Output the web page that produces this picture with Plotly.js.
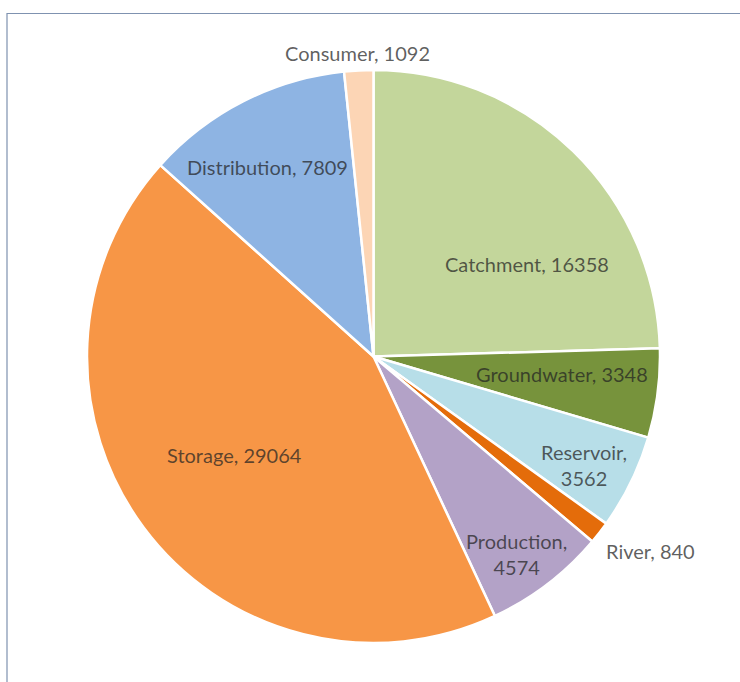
<!DOCTYPE html>
<html>
<head>
<meta charset="utf-8">
<script src="https://cdn.plot.ly/plotly-3.0.1.min.js"></script>
<style>
html,body{margin:0;padding:0;background:#fff;}
#chart{width:740px;height:682px;}
</style>
</head>
<body>
<div id="chart"></div>
<script>
const categories = ["Catchment","Groundwater","Reservoir","River","Production","Storage","Distribution","Consumer"];
const values = [16358, 3348, 3562, 840, 4574, 29064, 7809, 1092];
const colors = ["#c3d69b","#77933c","#b7dee8","#e46c0a","#b3a2c7","#f79646","#8eb4e3","#fcd5b5"];
// label layout: pixel centre of each label and whether it wraps to two lines
const labelPos = [[527,264],[562,374],[584,465],[650,551],[516,554],[235,455],[267,167],[357,53]];
const labelWrap = [false,false,true,false,true,false,false,false];

const W = 740, H = 682;
const annotations = categories.map((c,i)=>({
  text: c + "," + (labelWrap[i] ? "<br>" : " ") + values[i],
  x: labelPos[i][0]/W, y: 1 - labelPos[i][1]/H,
  xref:"paper", yref:"paper", showarrow:false,
  xanchor:"center", yanchor:"middle", align:"center",
  font:{family:"Lato, 'Noto Sans', sans-serif", size:20, color:"rgba(35,35,35,0.72)"}
}));

const trace = {
  type:"pie",
  labels: categories,
  values: values,
  sort:false,
  direction:"clockwise",
  rotation:0,
  textinfo:"none",
  hoverinfo:"label+value",
  marker:{colors:colors, line:{color:"#ffffff", width:2.5}},
  domain:{x:[87/W, 660/W], y:[1-643/H, 1-70/H]},
  showlegend:false
};

const layout = {
  width:W, height:H,
  margin:{l:0,r:0,t:0,b:0},
  paper_bgcolor:"#ffffff",
  annotations: annotations,
  shapes:[{type:"rect", xref:"paper", yref:"paper",
    x0:7/W, x1:1.05, y0:-0.05, y1:1-13.5/H,
    line:{color:"#7f92b0", width:1.2}}]
};

Plotly.newPlot("chart",[trace],layout,{displayModeBar:false, staticPlot:true});
</script>
</body>
</html>
